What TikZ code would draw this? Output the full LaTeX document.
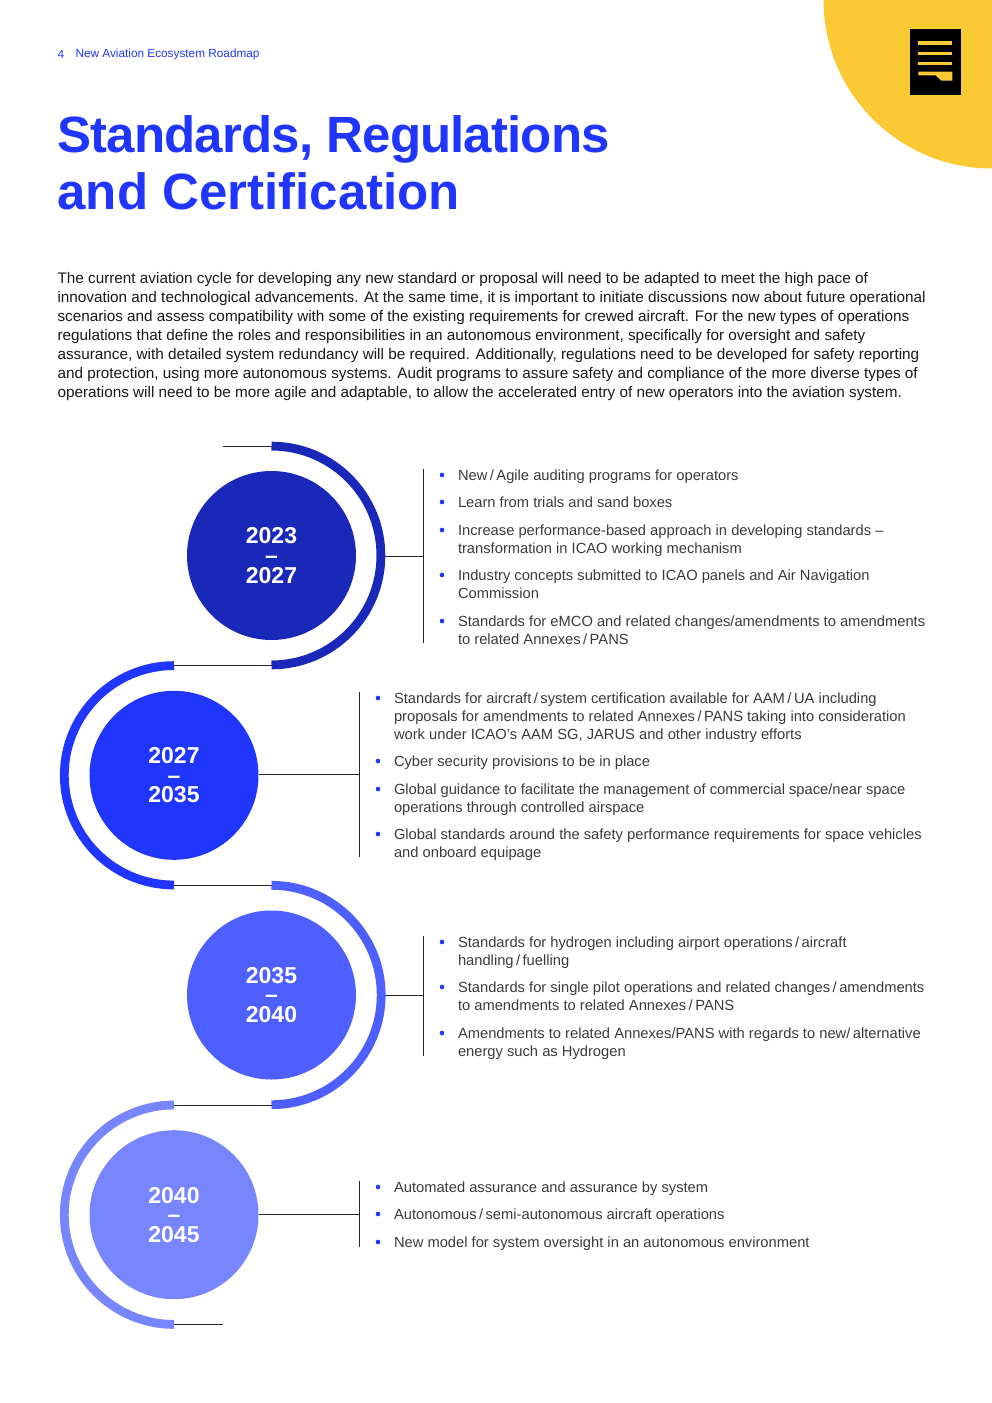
\documentclass[tikz,border=0pt]{standalone}
\usepackage{fontspec}
\setmainfont{Liberation Sans}
\definecolor{roadA}{HTML}{1A28BA}
\definecolor{roadB}{HTML}{2036FF}
\definecolor{roadC}{HTML}{4D5FFF}
\definecolor{roadD}{HTML}{7785FF}
\definecolor{cornerY}{HTML}{FBC933}
\definecolor{itemgray}{HTML}{3A3A3A}
\newcommand{\itemfont}{\fontsize{14.72}{18}\selectfont}
\newcommand{\bodyfont}{\fontsize{15.3}{19}\selectfont}
\tikzset{
  itemtext/.style={anchor=north west,inner sep=0pt,align=left,text=itemgray,font=\itemfont,execute at begin node=\strut},
  bodytext/.style={anchor=north west,inner sep=0pt,align=left,text=black!90,font=\bodyfont,execute at begin node=\strut},
  titletext/.style={anchor=north west,inner sep=0pt,align=left,text=roadB,font=\fontsize{51}{57}\selectfont\bfseries,execute at begin node=\strut},
  headtext/.style={anchor=west,inner sep=0pt,text=roadB,font=\fontsize{11.8}{13}\selectfont},
  bulletdot/.style={circle,fill=roadB,minimum size=4.6pt,inner sep=0pt},
  yeardisc/.style={circle,minimum size=169pt,inner sep=0pt,text=white,align=center,font=\fontsize{23}{19.6}\selectfont\bfseries},
  ring/.style={line width=8.8pt},
  bar/.style={line width=1pt,black!85}
}
\begin{document}
\begin{tikzpicture}[x=1pt,y=-1pt,line width=1pt,line join=round]
\path[use as bounding box] (0,0) rectangle (992,1403);
% Corner badge with page icon.
\fill[cornerY] (823.5,0) arc[start angle=180,end angle=90,radius=168.5] -- (992,0) -- cycle;
\fill[black] (910.4,29) rectangle (960.7,94.7);
\fill[cornerY] (918.4,41.4) rectangle (952.3,45);
\fill[cornerY] (918.4,51.6) rectangle (952.3,55.2);
\fill[cornerY] (918.4,61.6) rectangle (952.3,65.2);
\fill[cornerY] (918.4,71.7) -- (952.3,71.7) -- (952.3,80.7) -- (941.3,80.7) -- (935.7,75.3) -- (918.4,75.3) -- cycle;
% Running head and title.
\node[headtext] (pagenum) at (57,54) {4};
\node[headtext] (runhead) at (75,54) {New Aviation Ecosystem Roadmap};
\node[titletext] (title) at (57,115) {{\addfontfeature{LetterSpace=-1.7}Standards, Regulations}\\and Certification};
\node[bodytext] (intro) at (57,271.7) {The current aviation cycle for developing any new standard or proposal will need to be adapted to meet the high pace of\\
innovation and technological advancements. At the same time, it is important to initiate discussions now about future operational\\
scenarios and assess compatibility with some of the existing requirements for crewed aircraft. For the new types of operations\\
regulations that define the roles and responsibilities in an autonomous environment, specifically for oversight and safety\\
assurance, with detailed system redundancy will be required. Additionally, regulations need to be developed for safety reporting\\
and protection, using more autonomous systems. Audit programs to assure safety and compliance of the more diverse types of\\
operations will need to be more agile and adaptable, to allow the accelerated entry of new operators into the aviation system.};
% Period 2023--2027.
\begin{scope}[shift={(271.5,555.5)}]
\coordinate (r1-head) at (-49,-109.4);
\coordinate (r1-top) at (0,-109.4);
\coordinate (r1-bot) at (0,109.4);
\coordinate (r1-out) at (113.8,0.5);
\coordinate (r1-hub) at (152,0.5);
\coordinate (r1-up) at (152,-86.5);
\coordinate (r1-down) at (152,87.5);
\node[yeardisc,fill=roadA] (r1-disc) at (0,0) {2023\\–\\2027};
\draw[bar] (r1-head) -- (r1-top);
\draw[ring,roadA] (r1-top) arc[start angle=-90,end angle=90,radius=109.4];
\draw[bar] (r1-out) -- (r1-hub);
\draw[bar] (r1-up) -- (r1-down);
\end{scope}
\node[bulletdot] (r1-d1) at (442,475) {};
\node[itemtext] (r1-t1) at (457.5,467.4) {New\,/\,Agile auditing programs for operators};
\node[bulletdot] (r1-d2) at (442,502) {};
\node[itemtext] (r1-t2) at (457.5,494.4) {Learn from trials and sand boxes};
\node[bulletdot] (r1-d3) at (442,530) {};
\node[itemtext] (r1-t3) at (457.5,524.4) {Increase performance-based approach in developing standards –\\transformation in ICAO working mechanism};
\node[bulletdot] (r1-d4) at (442,575) {};
\node[itemtext] (r1-t4) at (457.5,569.4) {Industry concepts submitted to ICAO panels and Air Navigation\\Commission};
\node[bulletdot] (r1-d5) at (442,621) {};
\node[itemtext] (r1-t5) at (457.5,615.4) {Standards for eMCO and related changes/amendments to amendments\\to related Annexes\,/\,PANS};
% Period 2027--2035.
\begin{scope}[shift={(174,775.3)}]
\coordinate (r2-top) at (0,-109.7);
\coordinate (r2-bot) at (0,109.7);
\coordinate (r2-link) at (97.5,-109.7);
\coordinate (r2-linkb) at (97.5,109.7);
\coordinate (r2-hub) at (185.5,-0.8);
\coordinate (r2-up) at (185.5,-83.3);
\coordinate (r2-down) at (185.5,81.7);
\node[yeardisc,fill=roadB] (r2-disc) at (0,0) {2027\\–\\2035};
\draw[bar] (r2-top) -- (r2-link);
\draw[bar] (r2-bot) -- (r2-linkb);
\draw[ring,roadB] (r2-top) arc[start angle=270,end angle=90,radius=109.7];
\draw[bar] (r2-disc.east |- r2-hub) -- (r2-hub);
\draw[bar] (r2-up) -- (r2-down);
\end{scope}
\node[bulletdot] (r2-d1) at (378,698) {};
\node[itemtext] (r2-t1) at (393.5,692.4) {Standards for aircraft\,/\,system certification available for AAM\,/\,UA including\\proposals for amendments to related Annexes\,/\,PANS taking into consideration\\work under ICAO’s AAM SG, JARUS and other industry efforts};
\node[bulletdot] (r2-d2) at (378,761) {};
\node[itemtext] (r2-t2) at (393.5,753.4) {Cyber security provisions to be in place};
\node[bulletdot] (r2-d3) at (378,789) {};
\node[itemtext] (r2-t3) at (393.5,783.4) {Global guidance to facilitate the management of commercial space/near space\\operations through controlled airspace};
\node[bulletdot] (r2-d4) at (378,834) {};
\node[itemtext] (r2-t4) at (393.5,828.4) {Global standards around the safety performance requirements for space vehicles\\and onboard equipage};
% Period 2035--2040.
\begin{scope}[shift={(271.5,995)}]
\coordinate (r3-top) at (0,-109.7);
\coordinate (r3-bot) at (0,109.7);
\coordinate (r3-out) at (113.8,0.5);
\coordinate (r3-hub) at (152,0.5);
\coordinate (r3-up) at (152,-59);
\coordinate (r3-down) at (152,61);
\node[yeardisc,fill=roadC] (r3-disc) at (0,0) {2035\\–\\2040};
\draw[ring,roadC] (r3-top) arc[start angle=-90,end angle=90,radius=109.7];
\draw[bar] (r3-out) -- (r3-hub);
\draw[bar] (r3-up) -- (r3-down);
\end{scope}
\node[bulletdot] (r3-d1) at (442,942) {};
\node[itemtext] (r3-t1) at (457.5,936.4) {Standards for hydrogen including airport operations\,/\,aircraft\\handling\,/\,fuelling};
\node[bulletdot] (r3-d2) at (442,987) {};
\node[itemtext] (r3-t2) at (457.5,981.4) {Standards for single pilot operations and related changes\,/\,amendments\\to amendments to related Annexes\,/\,PANS};
\node[bulletdot] (r3-d3) at (442,1033) {};
\node[itemtext] (r3-t3) at (457.5,1027.4) {Amendments to related Annexes/PANS with regards to new/\,alternative\\energy such as Hydrogen};
% Period 2040--2045.
\begin{scope}[shift={(174,1214.7)}]
\coordinate (r4-top) at (0,-109.7);
\coordinate (r4-bot) at (0,109.7);
\coordinate (r4-link) at (97.5,-109.7);
\coordinate (r4-tail) at (48.5,109.7);
\coordinate (r4-hub) at (185.5,-0.7);
\coordinate (r4-up) at (185.5,-33.7);
\coordinate (r4-down) at (185.5,32.3);
\node[yeardisc,fill=roadD] (r4-disc) at (0,0) {2040\\–\\2045};
\draw[bar] (r4-top) -- (r4-link);
\draw[bar] (r4-bot) -- (r4-tail);
\draw[ring,roadD] (r4-top) arc[start angle=270,end angle=90,radius=109.7];
\draw[bar] (r4-disc.east |- r4-hub) -- (r4-hub);
\draw[bar] (r4-up) -- (r4-down);
\end{scope}
\node[bulletdot] (r4-d1) at (378,1187) {};
\node[itemtext] (r4-t1) at (393.5,1179.4) {Automated assurance and assurance by system};
\node[bulletdot] (r4-d2) at (378,1214) {};
\node[itemtext] (r4-t2) at (393.5,1206.4) {Autonomous\,/\,semi-autonomous aircraft operations};
\node[bulletdot] (r4-d3) at (378,1242) {};
\node[itemtext] (r4-t3) at (393.5,1234.4) {New model for system oversight in an autonomous environment};
\end{tikzpicture}
\end{document}
